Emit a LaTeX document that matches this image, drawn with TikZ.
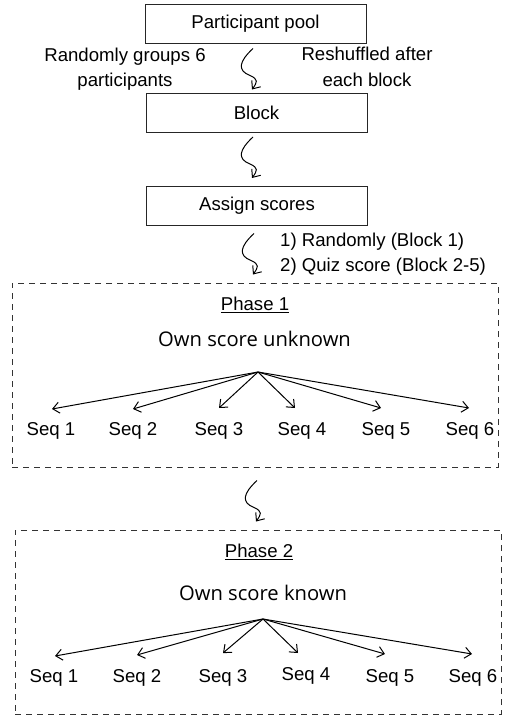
\documentclass[tikz,border=0pt]{standalone}
\usepackage{fontspec}
\setmainfont{Liberation Sans}
\newfontfamily\segoe{Open Sans}
\usetikzlibrary{arrows.meta,calc}
\tikzset{
  box/.style={draw=black!85, line width=1pt, minimum width=221pt, minimum height=39pt, inner sep=0pt, font=\fontsize{18.6}{25}\selectfont},
  phasebox/.style={draw=black!80, line width=1pt, dash pattern=on 6pt off 5pt, inner sep=0pt},
  lbl/.style={font=\fontsize{18.6}{25.5}\selectfont, inner sep=0pt, align=center},
  seqlbl/.style={font=\fontsize{18.6}{22}\selectfont, inner sep=0pt},
  headlbl/.style={font=\segoe\fontsize{20.2}{24}\selectfont, inner sep=0pt},
  fan/.style={line width=1pt, -{Straight Barb[length=6.5pt,width=11pt,line width=1pt]}},
  sq/.style={line width=1pt, -{Straight Barb[length=6.5pt,width=11pt,line width=1pt]}},
}
\newcommand\squig[1]{%
  \draw[sq] ($(#1)+(1,-41)$) .. controls ($(#1)+(-13,-28)$) and ($(#1)+(-15,-19)$) .. ($(#1)+(-2,-14)$)
     .. controls ($(#1)+(7,-10)$) and ($(#1)+(5,-7)$) .. (#1);}
\begin{document}
\begin{tikzpicture}[x=1pt,y=-1pt]
\useasboundingbox (0,0) rectangle (507,720);
% boxes
\node[box] (pool) at (255.5,24) {Participant pool};
\node[box] (block) at (256.5,112.5) {Block};
\node[box] (assign) at (257,206) {Assign scores};
\node[phasebox, minimum width=486pt, minimum height=184pt] (ph1) at (255,375) {};
\node[phasebox, minimum width=486pt, minimum height=184pt] (ph2) at (258,622) {};
% side labels
\node[lbl] (rg) at (125,69) {Randomly groups 6\\participants};
\node[lbl] (rs) at (367,67) {Reshuffled after\\each block};
\node[lbl, align=left, anchor=west] (sc) at (280,254) {1) Randomly (Block 1)\\2) Quiz score (Block 2-5)};
% squiggly connectors
\coordinate (t1) at ($(block.north)+(-4.5,-3)$);
\coordinate (t2) at ($(assign.north)+(-5,-8)$);
\coordinate (t3) at ($(ph1.north)+(-2,-8)$);
\coordinate (t4) at ($(ph2.north)+(-2,-8)$);
\squig{t1}\squig{t2}\squig{t3}\squig{t4}
% phase 1
\node[lbl] (p1) at (255,305) {\underline{Phase 1}};
\node[headlbl] (h1) at (254.5,339) {Own score unknown};
\coordinate (hub1) at (258,372);
\foreach \i/\sx/\tx/\ty in {1/51/52/409, 2/133/133/409, 3/219/219/408, 4/302/295/408, 5/386/381/408, 6/470/469/408}{
  \node[seqlbl] (a\i) at (\sx,431) {Seq \i};
  \coordinate (ta\i) at (\tx,\ty);
  \draw[fan] (hub1) -- (ta\i);
}
% phase 2
\node[lbl] (p2) at (259,552) {\underline{Phase 2}};
\node[headlbl] (h2) at (263,593) {Own score known};
\coordinate (hub2) at (263,619);
\foreach \i/\sx/\sy/\tx/\ty in {1/54/678/55/656, 2/137/678/137/655, 3/223/678/223/653, 4/306/676/298/653, 5/390/678/385/654, 6/473/678/472/654}{
  \node[seqlbl] (b\i) at (\sx,\sy) {Seq \i};
  \coordinate (tb\i) at (\tx,\ty);
  \draw[fan] (hub2) -- (tb\i);
}
\end{tikzpicture}
\end{document}
